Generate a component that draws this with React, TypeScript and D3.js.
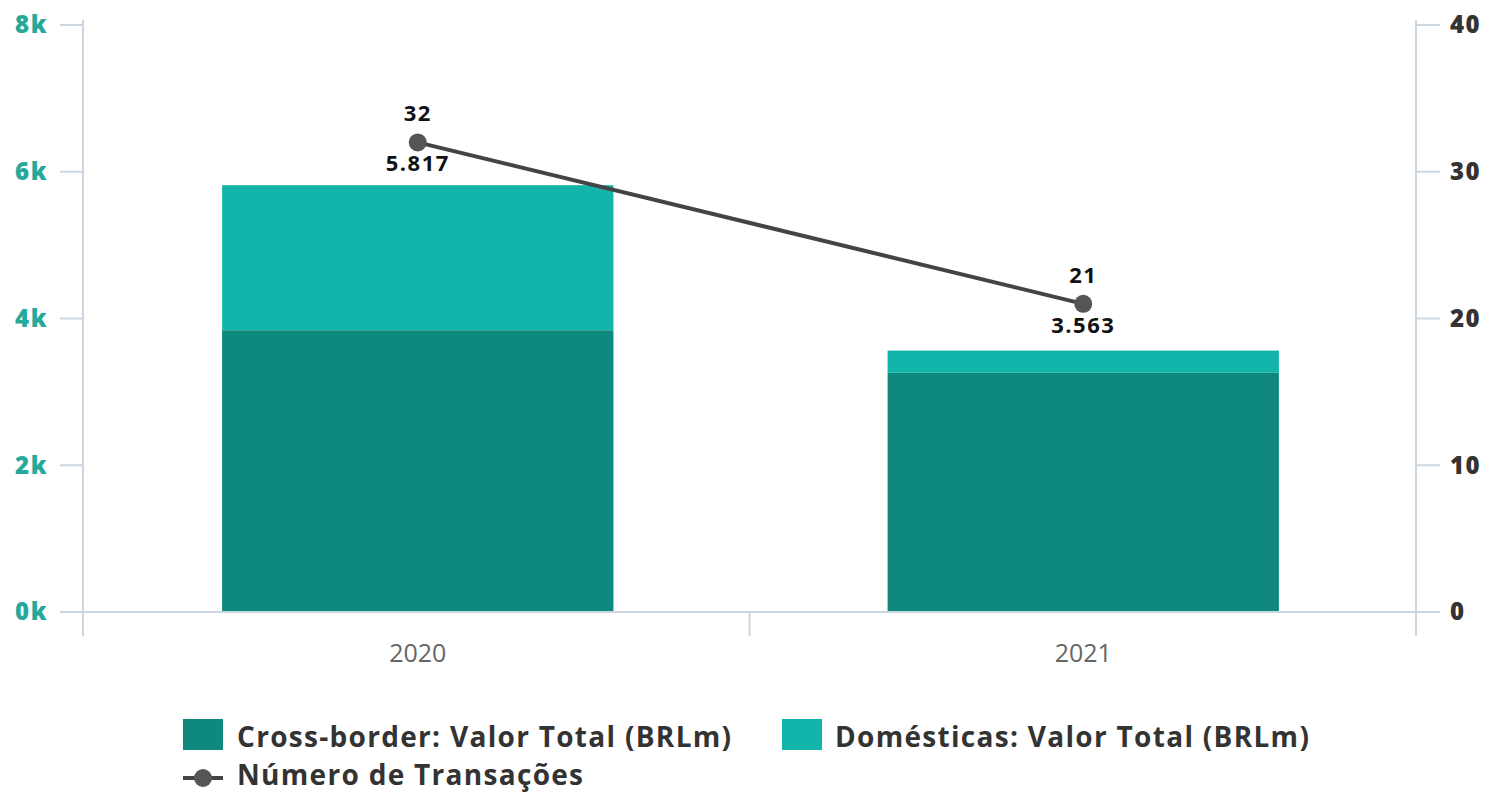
import React from "react";
import * as d3 from "d3";

const categories = ["2020", "2021"];
const crossBorder = [3840, 3260];
const domesticas = [1977, 303];
const totals = [5817, 3563];
const transacoes = [32, 21];
const leftTicks = [0, 2000, 4000, 6000, 8000];
const rightTicks = [0, 10, 20, 30, 40];

const W = 1491;
const H = 797;
const FONT = "'Open Sans', sans-serif";
const C_CROSS = "#0f897d";
const C_DOM = "#13b4a9";
const C_LINE = "#444444";
const C_AXIS = "#ccd6e0";

export default function App() {
  const left = 83;
  const right = 1416;
  const top = 25;
  const bottom = 612;

  const x = d3.scaleBand<string>().domain(categories).range([left + 2, right]).paddingInner(0.412).paddingOuter(0.206);
  const yL = d3.scaleLinear().domain([0, 8000]).range([bottom, top]);
  const yR = d3.scaleLinear().domain([0, 40]).range([bottom, top]);

  const cx = (c: string) => (x(c) as number) + x.bandwidth() / 2;
  const linePath = d3
    .line<number>()
    .x((_, i) => cx(categories[i]))
    .y((d) => yR(d))(transacoes) as string;

  const xTickPositions = [left, (left + right) / 2, right];

  return (
    <div style={{ position: "absolute", left: 0, top: 0 }}>
      <svg width={W} height={H} style={{ display: "block", fontFamily: FONT }}>
        <rect width={W} height={H} fill="#ffffff" />
        {categories.map((c, i) => (
          <g key={c}>
            <rect x={x(c)} width={x.bandwidth()} y={yL(crossBorder[i])} height={yL(0) - yL(crossBorder[i])} fill={C_CROSS} />
            <rect
              x={x(c)}
              width={x.bandwidth()}
              y={yL(crossBorder[i] + domesticas[i])}
              height={yL(crossBorder[i]) - yL(crossBorder[i] + domesticas[i])}
              fill={C_DOM}
            />
          </g>
        ))}
        <line x1={left} x2={left} y1={20} y2={636} stroke={C_AXIS} strokeWidth={2} />
        <line x1={right} x2={right} y1={20} y2={636} stroke={C_AXIS} strokeWidth={2} />
        <line x1={left} x2={right} y1={bottom} y2={bottom} stroke={C_AXIS} strokeWidth={2} />
        {xTickPositions.map((p, i) => (
          <line key={i} x1={p} x2={p} y1={bottom} y2={636} stroke={C_AXIS} strokeWidth={2} />
        ))}
        {leftTicks.map((t) => (
          <g key={t}>
            <line x1={60} x2={left} y1={yL(t)} y2={yL(t)} stroke={C_AXIS} strokeWidth={2} />
            <text x={48} y={yL(t)} dy="0.35em" textAnchor="end" fontSize={24} fontWeight={800} fill="#26a89a" letterSpacing={1.5}>
              {d3.format("d")(t / 1000) + "k"}
            </text>
          </g>
        ))}
        {rightTicks.map((t) => (
          <g key={t}>
            <line x1={right} x2={1440} y1={yR(t)} y2={yR(t)} stroke={C_AXIS} strokeWidth={2} />
            <text x={1450} y={yR(t)} dy="0.35em" textAnchor="start" fontSize={24} fontWeight={800} fill="#333333" letterSpacing={1.5}>
              {t}
            </text>
          </g>
        ))}
        {categories.map((c) => (
          <text key={c} x={cx(c)} y={653} dy="0.35em" textAnchor="middle" fontSize={25} fontWeight={400} fill="#666666">
            {c}
          </text>
        ))}
        <path d={linePath} fill="none" stroke={C_LINE} strokeWidth={4} />
        {categories.map((c, i) => (
          <g key={c}>
            <circle cx={cx(c)} cy={yR(transacoes[i])} r={9} fill="#555555" />
            <text x={cx(c)} y={yR(transacoes[i]) - 29} dy="0.35em" textAnchor="middle" fontSize={22} fontWeight={700} fill="#111111" letterSpacing={1.5}>
              {transacoes[i]}
            </text>
            <text x={cx(c)} y={yR(transacoes[i]) + 21} dy="0.35em" textAnchor="middle" fontSize={22} fontWeight={700} fill="#111111" letterSpacing={1.5}>
              {d3.format(",")(totals[i]).replace(/,/g, ".")}
            </text>
          </g>
        ))}
        <rect x={183} y={719} width={40} height={31} fill={C_CROSS} />
        <text x={237} y={737} dy="0.35em" fontSize={28} fontWeight={700} fill="#333333" letterSpacing={1.3}>
          Cross-border: Valor Total (BRLm)
        </text>
        <rect x={782} y={719} width={40} height={31} fill={C_DOM} />
        <text x={835} y={737} dy="0.35em" fontSize={28} fontWeight={700} fill="#333333" letterSpacing={1.3}>
          Domésticas: Valor Total (BRLm)
        </text>
        <line x1={183} x2={223} y1={778} y2={778} stroke={C_LINE} strokeWidth={4} />
        <circle cx={203} cy={778} r={9} fill="#555555" />
        <text x={237} y={775} dy="0.35em" fontSize={28} fontWeight={700} fill="#333333" letterSpacing={1.3}>
          Número de Transações
        </text>
      </svg>
    </div>
  );
}
